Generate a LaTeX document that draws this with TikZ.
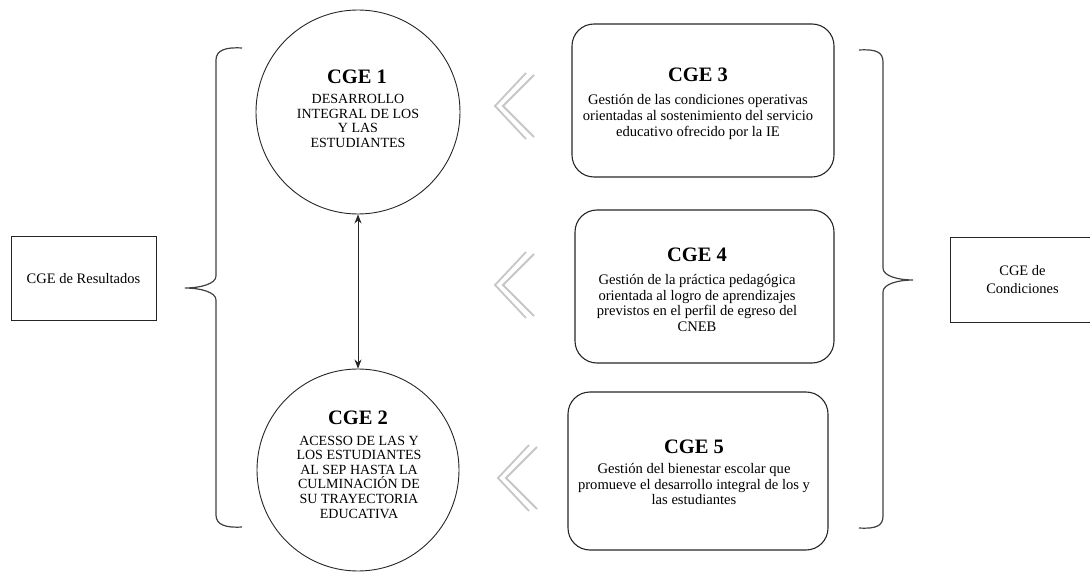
\documentclass[tikz,border=0pt]{standalone}
\usepackage{fontspec}
\setmainfont{LiberationSerif}[Extension=.ttf, UprightFont=*-Regular, BoldFont=*-Bold, ItalicFont=*-Italic, BoldItalicFont=*-BoldItalic]
\usetikzlibrary{arrows.meta}
\begin{document}
\begin{tikzpicture}[x=1pt,y=-1pt,
  circ/.style={draw=black!85, circle, line width=0.9pt, inner sep=0pt},
  rbox/.style={draw=black!85, rounded corners=22pt, line width=1.1pt, inner sep=0pt},
  sqbox/.style={draw=black!85, line width=1pt, inner sep=0pt, font=\rmfamily\fontsize{14.5}{18}\selectfont, align=center},
  ttl/.style={font=\rmfamily\fontsize{20.5}{22}\selectfont\bfseries, inner sep=0pt},
  bodytxt/.style={font=\rmfamily\fontsize{14.6}{15.6}\selectfont, align=center, inner sep=0pt},
  circtxt/.style={font=\rmfamily\fontsize{14}{14.6}\selectfont, align=center, inner sep=0pt},
  chev/.style={draw=gray!45, line width=1.8pt},
  brace/.style={draw=black!75, line width=1.2pt},
  arr/.style={draw=black!85, line width=0.9pt, {Stealth[length=9pt,width=7pt]}-{Stealth[length=9pt,width=7pt]}}
]
\useasboundingbox (0,0) rectangle (1090,572);

% left box and brace
\node[sqbox, minimum width=145pt, minimum height=83pt] (lres) at (83.5,278.5) {CGE de Resultados};
\draw[brace] (242,48) .. controls (226,47) and (216,50) .. (216,60) -- (216,276)
  .. controls (216,284) and (200,288) .. (185,288)
  .. controls (200,288) and (216,292) .. (216,300) -- (216,515)
  .. controls (216,525) and (226,528) .. (242,527);

% circles
\node[circ, minimum size=204pt] (c1) at (358,112) {};
\node[circ, minimum size=202pt] (c2) at (358,470) {};
\node[ttl] (t1) at (357,77) {CGE 1};
\node[circtxt] (d1) at (358,121) {DESARROLLO\\INTEGRAL DE LOS\\Y LAS\\ESTUDIANTES};
\node[ttl] (t2) at (358,418) {CGE 2};
\node[circtxt] (d2) at (359,477) {ACESSO DE LAS Y\\LOS ESTUDIANTES\\AL SEP HASTA LA\\CULMINACIÓN DE\\SU TRAYECTORIA\\EDUCATIVA};
\draw[arr] (c1.south) -- (c2.north);

% chevrons
\draw[chev] (526,73) -- (495,106) -- (526,139);
\draw[chev] (534,75) -- (503,106) -- (534,137);
\draw[chev] (526,252) -- (495,285) -- (526,318);
\draw[chev] (534,254) -- (503,285) -- (534,316);
\draw[chev] (529,445) -- (498,478) -- (529,511);
\draw[chev] (537,447) -- (506,478) -- (537,509);

% right boxes
\node[rbox, minimum width=262pt, minimum height=153pt] (b3) at (703,100.5) {};
\node[ttl] (t3) at (698,75) {CGE 3};
\node[bodytxt] (d3) at (698,117) {Gestión de las condiciones operativas\\orientadas al sostenimiento del servicio\\educativo ofrecido por la IE};

\node[rbox, minimum width=259pt, minimum height=153pt] (b4) at (704.5,286.5) {};
\node[ttl] (t4) at (697,255) {CGE 4};
\node[bodytxt] (d4) at (697,303) {Gestión de la práctica pedagógica\\orientada al logro de aprendizajes\\previstos en el perfil de egreso del\\CNEB};

\node[rbox, minimum width=260pt, minimum height=158pt] (b5) at (698,471) {};
\node[ttl] (t5) at (694,447) {CGE 5};
\node[bodytxt] (d5) at (694,484) {Gestión del bienestar escolar que\\promueve el desarrollo integral de los y\\las estudiantes};

% right brace and box
\draw[brace] (859,50) .. controls (876,49) and (883,52) .. (883,62) -- (883,268)
  .. controls (883,276) and (898,280) .. (913,280)
  .. controls (898,280) and (883,284) .. (883,292) -- (883,516)
  .. controls (883,526) and (876,529) .. (859,528);
\node[sqbox, minimum width=145pt, minimum height=84pt] (rcond) at (1022.5,280) {CGE de\\Condiciones};
\end{tikzpicture}
\end{document}
